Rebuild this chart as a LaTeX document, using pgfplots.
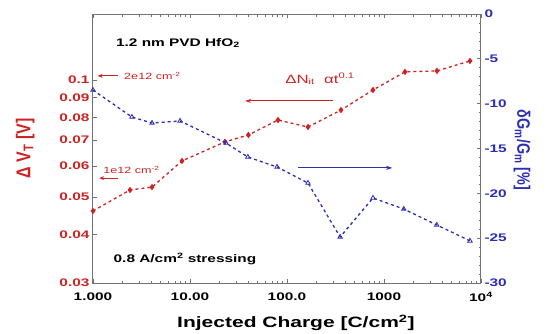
\documentclass[border=0pt]{standalone}
\usepackage{pgfplots}
\pgfplotsset{compat=1.18}
\usepackage{pgfplotstable}
\usepackage{fontspec}
\setmainfont{Liberation Sans}
\newfontfamily\widefont[FakeStretch=1.4]{Liberation Sans}
\newfontfamily\narrowfont[FakeStretch=0.8]{Liberation Sans}
\usetikzlibrary{arrows.meta}
\definecolor{myred}{RGB}{205,35,35}
\definecolor{myblue}{RGB}{45,45,180}
\definecolor{framegray}{RGB}{115,115,115}

\pgfplotstableread{
q v
1 0.0460
2.41 0.0521
4.06 0.0530
8.27 0.0619
22.9 0.0693
40 0.0722
80.8 0.0789
164.6 0.0757
360 0.0837
770 0.0943
1646 0.1050
3517 0.1056
7700 0.1120
}\reddata

\pgfplotstableread{
q g
1 -8.48
2.52 -11.49
4.06 -12.16
7.9 -11.93
23.5 -14.39
39.5 -15.95
79 -17.06
164.6 -18.85
353 -24.87
770 -20.52
1600 -21.75
3500 -23.53
7700 -25.30
}\bluedata

\begin{document}
\begin{tikzpicture}[x=1pt,y=1pt]
\path[use as bounding box] (-93,-50) rectangle (464,283);
\begin{axis}[
  scale only axis, width=388pt, height=269pt,
  at={(0,0)}, anchor=south west,
  xmode=log, ymode=log,
  xmin=1, xmax=10000, ymin=0.03, ymax=0.148,
  xtick={1,10,100,1000,10000},
  xticklabels={1.000,10.00,100.0,1000,10\textsuperscript{4}},
  ytick={0.03,0.04,0.05,0.06,0.07,0.08,0.09,0.1},
  yticklabels={0.03,0.04,0.05,0.06,0.07,0.08,0.09,0.1},
  minor ytick={},
  ytick pos=left,
  tick align=inside,
  axis line style={framegray, line width=1pt},
  every tick/.style={framegray, line width=0.7pt},
  major tick length=4pt, minor tick length=2.5pt,
  /pgf/number format/assume math mode=true,
  xticklabel style={font=\widefont\fontsize{11}{12}\selectfont\bfseries, text=black, yshift=-6pt},
  yticklabel style={font=\widefont\fontsize{11}{12}\selectfont\bfseries, text=myred},
  xlabel={Injected Charge [C/cm\textsuperscript{2}]},
  xlabel style={font=\widefont\fontsize{15}{16}\selectfont\bfseries, at={(axis description cs:0.523,-0.149)}, anchor=center},
  ylabel={Δ V\textsubscript{T} [V]},
  ylabel style={font=\narrowfont\fontsize{20}{20}\selectfont\bfseries, text=myred, at={(axis description cs:-0.175,0.5)}, anchor=center},
  clip=false,
]
\addplot[myred, line width=1.3pt, dash pattern=on 3pt off 3pt,
  mark=diamond*, mark size=2.2pt, mark options={solid, fill=myred}]
  table[x=q, y=v] {\reddata};

\node[font=\widefont\fontsize{11}{12}\selectfont\bfseries, anchor=center] at (rel axis cs:0.219,0.892) {1.2 nm PVD HfO\textsubscript{2}};
\node[font=\widefont\fontsize{11}{12}\selectfont\bfseries, anchor=center] at (rel axis cs:0.237,0.089) {0.8 A/cm\textsuperscript{2} stressing};

\draw[myred, line width=0.8pt, -{Stealth[length=5pt,width=4pt]}] (rel axis cs:0.064,0.770) -- (rel axis cs:0.012,0.770);
\node[font=\widefont\fontsize{9}{10}\selectfont, text=myred, anchor=west, inner sep=0pt] at (rel axis cs:0.080,0.770) {2e12 cm\textsuperscript{-2}};

\draw[myred, line width=0.8pt, -{Stealth[length=5pt,width=4pt]}] (rel axis cs:0.064,0.390) -- (rel axis cs:0.016,0.390);
\node[font=\widefont\fontsize{9}{10}\selectfont, text=myred, anchor=west, inner sep=0pt] at (rel axis cs:0.026,0.420) {1e12 cm\textsuperscript{-2}};

\node[font=\widefont\fontsize{12}{13}\selectfont, text=myred, anchor=center] at (rel axis cs:0.585,0.758) {ΔN\textsubscript{it}\ \ αt\textsuperscript{0.1}};
\draw[myred, line width=0.8pt, -{Stealth[length=6pt,width=4pt]}] (rel axis cs:0.619,0.677) -- (rel axis cs:0.392,0.677);
\draw[myblue, line width=0.8pt, -{Stealth[length=6pt,width=4pt]}] (rel axis cs:0.528,0.428) -- (rel axis cs:0.771,0.428);
\end{axis}

\begin{axis}[
  scale only axis, width=388pt, height=269pt,
  at={(0,0)}, anchor=south west,
  xmode=log, xmin=1, xmax=10000,
  axis x line=none, axis y line*=right,
  ymin=-30, ymax=0,
  ytick={-30,-25,-20,-15,-10,-5,0},
  minor y tick num=4,
  tick align=inside,
  axis line style={framegray, line width=1pt},
  every tick/.style={framegray, line width=0.7pt},
  major tick length=4pt, minor tick length=2.5pt,
  /pgf/number format/assume math mode=true,
  yticklabel style={font=\widefont\fontsize{11}{12}\selectfont\bfseries, text=myblue},
  ylabel={δG\textsubscript{m}/G\textsubscript{m} [\%]},
  ylabel style={font=\narrowfont\fontsize{18}{18}\selectfont\bfseries, text=myblue, at={(axis description cs:1.106,0.495)}, anchor=center, rotate=180},
  clip=false,
]
\addplot[myblue, line width=1.3pt, dash pattern=on 3pt off 3pt,
  mark=triangle, mark size=2.6pt, mark options={solid, line width=0.8pt}]
  table[x=q, y=g] {\bluedata};
\end{axis}
\end{tikzpicture}
\end{document}
